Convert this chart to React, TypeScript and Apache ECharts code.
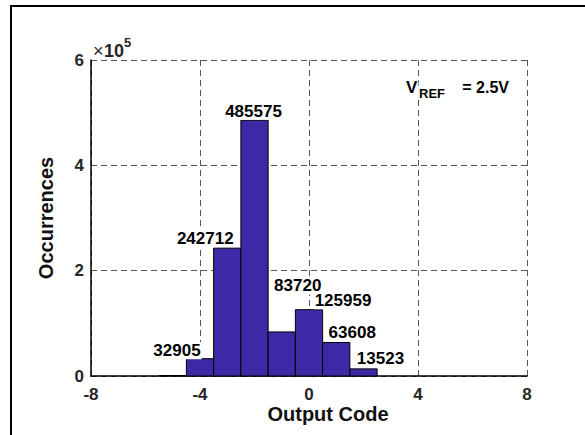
import React, { useEffect, useRef } from "react";
import * as echarts from "echarts";

// ---- data ----
const outputCodes = [-5, -4, -3, -2, -1, 0, 1, 2];
const occurrences = [900, 32905, 242712, 485575, 83720, 125959, 63608, 13523];
const xTicks = [-8, -4, 0, 4, 8];
const yTicksScaled = [0, 2, 4, 6]; // ×10^5

// label layout (dx from bar centre, distance of label centre above bar top)
const labelShift: [number, number][] = [
  [0, 0], [-23, 8], [-22, 10], [-1, 9], [16, 46], [34, 9], [16, 10], [17, 10],
];

const FONT = "'Liberation Sans', Arial, Helvetica, sans-serif";
const BAR_COLOR = "#3D29A6";

function txt(
  text: string,
  x: number,
  y: number,
  size: number,
  align: string,
  opts: any = {}
) {
  return {
    type: "text",
    x,
    y,
    rotation: opts.rotation || 0,
    z: 10,
    style: {
      text,
      fontFamily: FONT,
      fontSize: size,
      fontWeight: opts.weight || "bold",
      fill: opts.fill || "#000",
      align,
      verticalAlign: "middle",
      textAlign: align,
      textVerticalAlign: "middle",
      lineHeight: opts.lineHeight,
      backgroundColor: opts.bg,
      padding: opts.bg ? [0, 1] : 0,
    },
  };
}

export default function App() {
  const ref = useRef<HTMLDivElement>(null);

  useEffect(() => {
    if (!ref.current) return;
    const chart = echarts.init(ref.current, undefined, { renderer: "svg" });
    const data = outputCodes.map((c, i) => [c, occurrences[i]]);

    chart.setOption({
      animation: false,
      backgroundColor: "#fff",
      grid: { left: 91, right: 58, top: 60, bottom: 59, containLabel: false },
      xAxis: {
        type: "value",
        min: xTicks[0],
        max: xTicks[xTicks.length - 1],
        interval: 4,
        axisLine: { show: true, onZero: false, lineStyle: { color: "#000", width: 1.5 } },
        axisTick: { show: false },
        axisLabel: {
          margin: 11,
          lineHeight: 14,
          fontFamily: FONT,
          fontWeight: "bold",
          fontSize: 17,
          color: "#262626",
        },
        splitLine: { show: true, lineStyle: { color: "#555", type: [6, 4], width: 1 } },
      },
      yAxis: {
        type: "value",
        min: 0,
        max: yTicksScaled[yTicksScaled.length - 1] * 1e5,
        interval: 2e5,
        axisLine: { show: true, onZero: false, lineStyle: { color: "#000", width: 1.5 } },
        axisTick: { show: false },
        axisLabel: {
          margin: 7,
          fontFamily: FONT,
          fontWeight: "bold",
          fontSize: 17,
          color: "#262626",
          formatter: (v: number) => String(Math.round(v / 1e5)),
        },
        splitLine: { show: true, lineStyle: { color: "#555", type: [6, 4], width: 1 } },
      },
      graphic: [
        {
          type: "rect",
          shape: { x: 11, y: 6, width: 620, height: 500 },
          style: { fill: "none", stroke: "#000", lineWidth: 2 },
          silent: true,
        },
        txt("Output Code", 328, 414, 20, "center", { fill: "#111", lineHeight: 14 }),
        txt("Occurrences", 46, 218, 20, "center", { fill: "#111", rotation: Math.PI / 2 }),
        txt("×", 93, 51, 18, "left", { weight: "normal", fill: "#262626" }),
        txt("10", 104, 51, 18, "left", { fill: "#262626" }),
        txt("5", 124, 42, 13, "left", { fill: "#262626" }),
        txt("V", 405, 87, 17, "left", { bg: "#fff" }),
        txt("REF", 418, 93, 13, "left", { bg: "#fff" }),
        txt("= 2.5V", 510, 87, 16, "right", { bg: "#fff" }),
      ],
      series: [
        {
          type: "custom",
          clip: false,
          data,
          encode: { x: 0, y: 1 },
          renderItem: (params: any, api: any) => {
            const x = api.value(0);
            const y = api.value(1);
            const p0 = api.coord([x - 0.5, y]);
            const p1 = api.coord([x + 0.5, 0]);
            const idx = params.dataIndex;
            const children: any[] = [
              {
                type: "rect",
                shape: { x: p0[0], y: p0[1], width: p1[0] - p0[0], height: p1[1] - p0[1] },
                style: { fill: BAR_COLOR, stroke: "#000", lineWidth: 1 },
              },
            ];
            if (y >= 10000) {
              const [dx, above] = labelShift[idx];
              children.push({
                type: "text",
                x: (p0[0] + p1[0]) / 2 + dx,
                y: p0[1] - above,
                z2: 10,
                style: {
                  text: String(y),
                  fontFamily: FONT,
                  fontSize: 17,
                  fontWeight: "bold",
                  fill: "#000",
                  align: "center",
                  verticalAlign: "middle",
                  textAlign: "center",
                  textVerticalAlign: "middle",
                  backgroundColor: "#fff",
                  padding: [0, 1],
                },
              });
            }
            return { type: "group", children };
          },
        },
      ],
    });

    return () => chart.dispose();
  }, []);

  return (
    <div
      ref={ref}
      style={{ position: "absolute", left: 0, top: 0, width: 585, height: 435 }}
    />
  );
}
